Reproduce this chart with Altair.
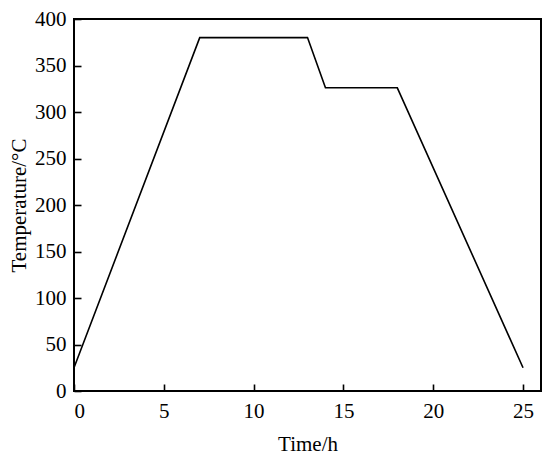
import altair as alt
import pandas as pd

time_h = [0, 7, 13, 14, 18, 25]
temperature = [25, 380, 380, 326, 326, 25]
x_ticks = [0, 5, 10, 15, 20, 25]
y_ticks = [0, 50, 100, 150, 200, 250, 300, 350, 400]

W, H = 467, 372
FONT = "Liberation Serif"
TICK = 7

df = pd.DataFrame({"t": time_h, "T": temperature})

xscale = alt.Scale(domain=[0, 26], nice=False, zero=False)
yscale = alt.Scale(domain=[0, 400], nice=False)

# ticks drawn inward: axis line moved into the plot by the tick length,
# so its outward ticks end exactly at the frame
x_axis = alt.Axis(values=x_ticks, ticks=True, tickSize=TICK, tickWidth=1.6, tickColor="black",
                  offset=-TICK, domain=False, grid=False,
                  labelPadding=9, titlePadding=12, format="d")
y_axis = alt.Axis(values=y_ticks, ticks=True, tickSize=TICK, tickWidth=1.6, tickColor="black",
                  offset=-TICK, domain=False, grid=False,
                  labelPadding=8, titlePadding=5, format="d")

line = alt.Chart(df).mark_line(color="black", strokeWidth=1.6).encode(
    x=alt.X("t:Q", scale=xscale, title="Time/h", axis=x_axis),
    y=alt.Y("T:Q", scale=yscale, title="Temperature/\u00b0C", axis=y_axis),
)

chart = line.properties(
    width=W, height=H, autosize="none",
    padding={"left": 66, "top": 11, "right": 1, "bottom": 70},
    background="white"
).configure_view(stroke="black", strokeWidth=2).configure_axis(
    labelFont=FONT, titleFont=FONT, labelFontSize=21, titleFontSize=21,
    labelColor="black", titleColor="black", titleFontWeight="normal"
)

chart.save("out.html", embed_options={"renderer": "svg", "actions": False})
